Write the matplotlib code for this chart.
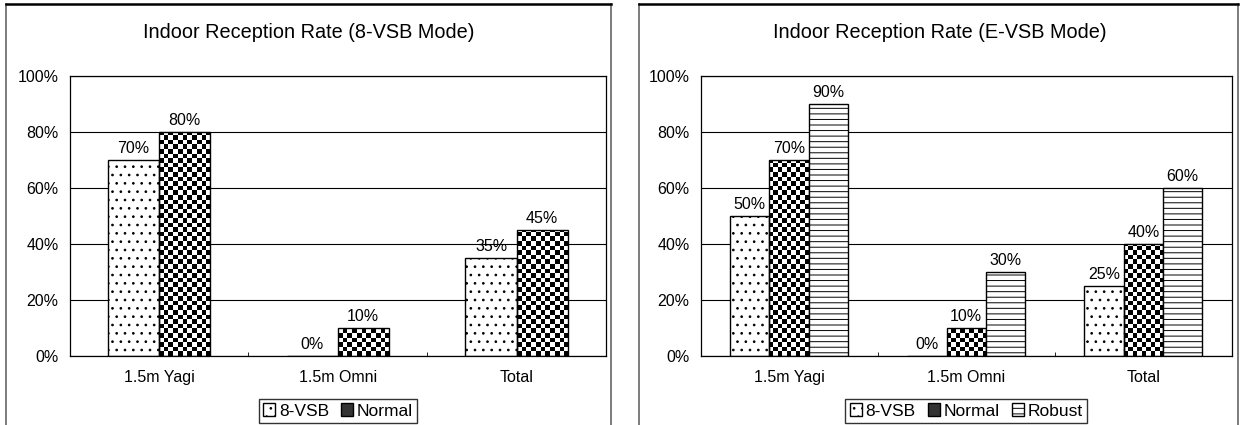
import matplotlib.pyplot as plt
import numpy as np
from matplotlib.patches import Patch
from matplotlib.lines import Line2D

plt.rcParams['font.family'] = ['Liberation Sans', 'DejaVu Sans']
plt.rcParams['hatch.linewidth'] = 0.7
plt.rcParams['hatch.color'] = 'black'

categories = ["1.5m Yagi", "1.5m Omni", "Total"]

# 8-VSB mode
mode8_vsb    = [70, 0, 35]
mode8_normal = [80, 10, 45]

# E-VSB mode
modeE_vsb    = [50, 0, 25]
modeE_normal = [70, 10, 40]
modeE_robust = [90, 30, 60]

yticks = [0, 20, 40, 60, 80, 100]

W, H = 1241, 425
fig = plt.figure(figsize=(W / 100, H / 100), dpi=100)


def px(x, y):
    return x / W, 1 - y / H


def checker_fill(ax, bar, cell=4.6):
    # black/white checkerboard clipped to the bar
    ax_px = ax.get_window_extent()
    x0, x1 = ax.get_xlim()
    y0, y1 = ax.get_ylim()
    sx = ax_px.width / (x1 - x0)
    sy = ax_px.height / (y1 - y0)
    bx, bw, bh = bar.get_x(), bar.get_width(), bar.get_height()
    nx = max(1, int(round(bw * sx / cell)))
    ny = max(1, int(np.ceil(bh * sy / cell)))
    board = np.add.outer(np.arange(ny), np.arange(nx)) % 2
    top = ny * cell / sy
    im = ax.imshow(board, cmap='gray', vmin=0, vmax=1, origin='lower',
                   extent=(bx, bx + bw, 0, top), aspect='auto',
                   interpolation='nearest', zorder=1.9)
    im.set_clip_path(bar)


def draw_panel(ax, series, title, frame_x, title_x, legend_x):
    ax.set_autoscale_on(False)
    ax.set_xlim(-0.5, len(categories) - 0.5)
    ax.set_ylim(0, 100)
    n = len(series)
    w = 1 / (n + 1.5)
    x = np.arange(len(categories))
    handles = []
    for k, (name, vals, style) in enumerate(series):
        pos = x + (k - (n - 1) / 2) * w
        if style == 'checker':
            bars = ax.bar(pos, vals, w, facecolor='none', edgecolor='black',
                          linewidth=1.0, zorder=2)
            for b in bars:
                if b.get_height() > 0:
                    checker_fill(ax, b)
            handles.append(Patch(facecolor='0.2', edgecolor='black', label=name))
        else:
            bars = ax.bar(pos, vals, w, facecolor='white', edgecolor='black',
                          linewidth=1.0, hatch=style, zorder=2)
            handles.append(Patch(facecolor='white', edgecolor='black',
                                 hatch=style, label=name))
        for p, v in zip(pos, vals):
            ax.annotate(f"{v}%", (p, v), xytext=(0, 3), textcoords='offset points',
                        ha='center', va='bottom', fontsize=11.5)

    ax.set_yticks(yticks)
    ax.set_yticklabels([f"{t}%" for t in yticks])
    ax.set_xticks(x)
    ax.set_xticklabels(categories)
    ax.set_xticks([0.5, 1.5], minor=True)
    ax.tick_params(axis='y', length=0, pad=8, labelsize=11.5)
    ax.tick_params(axis='x', which='major', length=0, pad=10, labelsize=11.5)
    ax.tick_params(axis='x', which='minor', direction='in', length=3, color='black')
    ax.yaxis.grid(True, color='black', linewidth=0.8)
    ax.set_axisbelow(True)
    for s in ax.spines.values():
        s.set_color('black')
        s.set_linewidth(0.9)

    # outer chart frame
    x0, x1 = frame_x
    fx0, ft = px(x0, 4)
    fx1, _ = px(x1, 4)
    fig.add_artist(Line2D([fx0, fx0], [0, ft], color='0.4', linewidth=1.2))
    fig.add_artist(Line2D([fx1, fx1], [0, ft], color='0.4', linewidth=1.2))
    fig.add_artist(Line2D([fx0, fx1], [ft, ft], color='black', linewidth=1.8))

    tx, ty = px(title_x, 32)
    fig.text(tx, ty, title, ha='center', va='center', fontsize=14.3)

    lx, ly = px(legend_x, 411)
    leg = fig.legend(handles=handles, loc='center', bbox_to_anchor=(lx, ly),
                     ncol=n, fontsize=12.5, frameon=True, fancybox=False,
                     edgecolor='black', handlelength=0.7, handleheight=0.7,
                     handletextpad=0.2, columnspacing=0.7, borderpad=0.25,
                     borderaxespad=0)
    leg.get_frame().set_linewidth(1.0)


ax1 = fig.add_axes([69.5 / W, 1 - 356 / H, 536.5 / W, 280 / H])
ax2 = fig.add_axes([700.5 / W, 1 - 356 / H, 531.5 / W, 280 / H])

draw_panel(ax1,
           [("8-VSB", mode8_vsb, '..'), ("Normal", mode8_normal, 'checker')],
           "Indoor Reception Rate (8-VSB Mode)", (6, 611), 308.5, 338)
draw_panel(ax2,
           [("8-VSB", modeE_vsb, '..'), ("Normal", modeE_normal, 'checker'),
            ("Robust", modeE_robust, '---')],
           "Indoor Reception Rate (E-VSB Mode)", (639, 1238), 940, 966)

fig.savefig("out.png", dpi=100)
